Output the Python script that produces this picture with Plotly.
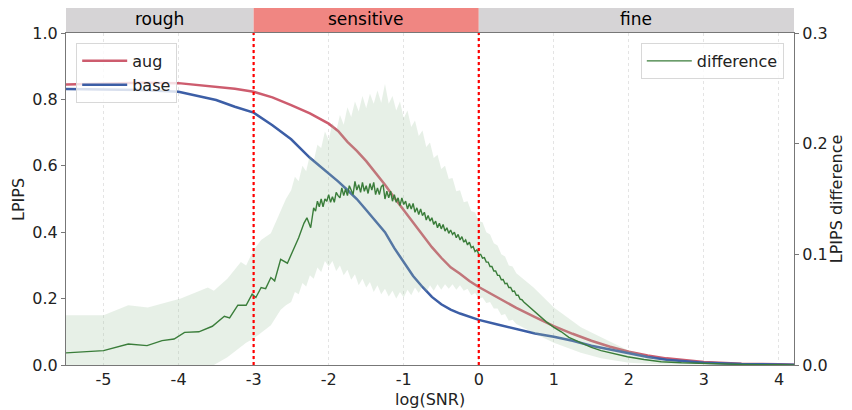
import plotly.graph_objects as go

# --- LPIPS curves (left axis) ---
X_CURVE = [-5.5, -5.0, -4.5, -4.0, -3.5, -3.25, -3.0, -2.75, -2.5, -2.25, -2.0, -1.875,
           -1.75, -1.625, -1.5, -1.375, -1.25, -1.125, -1.0, -0.875, -0.75, -0.625, -0.5,
           -0.375, -0.25, -0.125, 0.0, 0.25, 0.5, 0.75, 1.0, 1.25, 1.5, 1.75, 2.0, 2.25,
           2.5, 3.0, 3.5, 4.0, 4.2]
AUG = [0.845, 0.847, 0.850, 0.849, 0.838, 0.832, 0.823, 0.806, 0.783, 0.758, 0.727, 0.705,
       0.672, 0.645, 0.614, 0.580, 0.543, 0.504, 0.467, 0.428, 0.391, 0.355, 0.323,
       0.294, 0.275, 0.253, 0.235, 0.203, 0.172, 0.144, 0.117, 0.094, 0.073, 0.055, 0.040,
       0.029, 0.020, 0.009, 0.004, 0.002, 0.001]
BASE = [0.831, 0.830, 0.828, 0.823, 0.798, 0.778, 0.760, 0.722, 0.680, 0.624, 0.578, 0.553,
        0.527, 0.500, 0.467, 0.434, 0.400, 0.352, 0.310, 0.268, 0.235, 0.205, 0.183,
        0.167, 0.155, 0.145, 0.136, 0.122, 0.108, 0.095, 0.085, 0.073, 0.058, 0.046, 0.035,
        0.024, 0.016, 0.007, 0.003, 0.001, 0.001]

# --- LPIPS difference (right axis) ---
X_DIFF = [-5.5, -5.0, -4.67, -4.42, -4.22, -4.06, -3.92, -3.73, -3.55, -3.39, -3.32, -3.21,
          -3.1, -3.02, -2.97, -2.9, -2.84, -2.77, -2.72, -2.64, -2.55, -2.47, -2.4, -2.33,
          -2.29, -2.24,
          -2.2, -2.175, -2.15, -2.125, -2.1, -2.075, -2.05, -2.025, -2.0, -1.975, -1.95,
          -1.925, -1.9, -1.875, -1.85, -1.825, -1.8, -1.775, -1.75, -1.725, -1.7, -1.675,
          -1.65, -1.625, -1.6, -1.575, -1.55, -1.525, -1.5, -1.475, -1.45, -1.425, -1.4,
          -1.375, -1.35, -1.325, -1.3, -1.275, -1.25, -1.225, -1.2, -1.175, -1.15, -1.125,
          -1.1, -1.075, -1.05, -1.025, -1.0, -0.975, -0.95, -0.925, -0.9, -0.875, -0.85,
          -0.825, -0.8, -0.775, -0.75, -0.725, -0.7, -0.675, -0.65, -0.625, -0.6, -0.575,
          -0.55, -0.525, -0.5, -0.475, -0.45, -0.425, -0.4, -0.375, -0.35, -0.325, -0.3,
          -0.275, -0.25, -0.225, -0.2, -0.175, -0.15, -0.125, -0.1, -0.075, -0.05, -0.025,
          0.0, 0.025, 0.05, 0.075, 0.1, 0.125, 0.15, 0.175, 0.2, 0.225, 0.25, 0.275, 0.3,
          0.325, 0.35, 0.375, 0.4, 0.425, 0.45, 0.475, 0.5, 0.525, 0.55, 0.575, 0.6,
          0.7, 0.8, 0.9, 1.0, 1.1, 1.2, 1.36, 1.5, 1.63, 1.8, 1.98, 2.2, 2.43, 2.7, 3.0,
          3.5, 4.0, 4.2]
DIFF = [0.011, 0.013, 0.019, 0.0175, 0.022, 0.0235, 0.0295, 0.030, 0.035, 0.044, 0.0425, 0.054,
        0.054, 0.064, 0.061, 0.070, 0.069, 0.079, 0.076, 0.0955, 0.092, 0.104, 0.115, 0.128,
        0.133, 0.124,
        0.142, 0.139, 0.148, 0.143, 0.150, 0.143, 0.150, 0.148, 0.154, 0.147, 0.152,
        0.147, 0.156, 0.153, 0.151, 0.160, 0.153, 0.159, 0.153, 0.162, 0.157, 0.154,
        0.166, 0.158, 0.163, 0.156, 0.165, 0.157, 0.162, 0.155, 0.164, 0.158, 0.165,
        0.154, 0.160, 0.154, 0.161, 0.163, 0.150, 0.157, 0.151, 0.157, 0.148, 0.154,
        0.147, 0.151, 0.144, 0.151, 0.145, 0.148, 0.141, 0.146, 0.141, 0.146, 0.138,
        0.142, 0.136, 0.141, 0.135, 0.138, 0.131, 0.135, 0.130, 0.133, 0.127, 0.130,
        0.124, 0.128, 0.123, 0.127, 0.121, 0.124, 0.119, 0.122, 0.118, 0.120, 0.115,
        0.118, 0.113, 0.116, 0.111, 0.113, 0.1085, 0.111, 0.106, 0.107, 0.1025, 0.104,
        0.100, 0.100, 0.0965, 0.097, 0.093, 0.093, 0.089, 0.089, 0.085, 0.085, 0.081, 0.081, 0.077,
        0.0773, 0.0735, 0.0738, 0.070, 0.070, 0.0665, 0.0668, 0.063, 0.063, 0.0595, 0.059, 0.057,
        0.051, 0.045, 0.039, 0.034, 0.030, 0.025, 0.020, 0.016, 0.013, 0.010, 0.0075, 0.005,
        0.003, 0.002, 0.0012, 0.0005, 0.0002, 0.0001]

X_UPPER = [-5.5, -5.0, -4.67, -4.41, -3.97, -3.8, -3.61, -3.53, -3.35, -3.17, -3.1, -3.0,
           -2.9, -2.77, -2.64, -2.57,
           -2.5, -2.45, -2.4, -2.35, -2.3, -2.25, -2.2, -2.15, -2.1, -2.05, -2.0, -1.95,
           -1.9, -1.85, -1.8, -1.75, -1.7, -1.65, -1.6, -1.55, -1.5, -1.45, -1.4, -1.35,
           -1.3, -1.25, -1.2, -1.15, -1.1, -1.05, -1.0, -0.95, -0.9, -0.85, -0.8, -0.75,
           -0.7, -0.65, -0.6, -0.55, -0.5, -0.45, -0.4, -0.35, -0.3, -0.25, -0.2, -0.15,
           -0.1, -0.05, 0.0, 0.05, 0.1, 0.15, 0.2, 0.25, 0.3, 0.35, 0.4, 0.45, 0.5,
           0.73, 1.0, 1.36, 1.63, 1.98, 2.43, 3.0, 3.5, 4.2]
UPPER = [0.045, 0.045, 0.054, 0.052, 0.060, 0.065, 0.070, 0.067, 0.078, 0.093, 0.090, 0.104,
         0.113, 0.119, 0.140, 0.150,
         0.158, 0.170, 0.166, 0.180, 0.175, 0.190, 0.184, 0.199, 0.196, 0.211, 0.203, 0.219,
         0.211, 0.226, 0.217, 0.233, 0.224, 0.238, 0.229, 0.243, 0.232, 0.245, 0.236, 0.248,
         0.237, 0.254, 0.236, 0.243, 0.230, 0.238, 0.223, 0.230, 0.215, 0.221, 0.207, 0.212,
         0.197, 0.201, 0.187, 0.190, 0.177, 0.180, 0.168, 0.169, 0.157, 0.158, 0.147, 0.148,
         0.139, 0.138, 0.130, 0.129, 0.120, 0.118, 0.110, 0.108, 0.100, 0.098, 0.090, 0.089, 0.083,
         0.070, 0.052, 0.034, 0.025, 0.0135, 0.0045, 0.0012, 0.0004, 0.0001]

X_LOWER = [-5.5, -5.0, -4.67, -4.41, -3.97, -3.8, -3.61, -3.53, -3.35, -3.1, -3.0, -2.9,
           -2.77, -2.64, -2.57,
           -2.5, -2.45, -2.4, -2.35, -2.3, -2.25, -2.2, -2.15, -2.1, -2.05, -2.0, -1.95,
           -1.9, -1.85, -1.8, -1.75, -1.7, -1.65, -1.6, -1.55, -1.5, -1.45, -1.4, -1.35,
           -1.3, -1.25, -1.2, -1.15, -1.1, -1.05, -1.0, -0.95, -0.9, -0.85, -0.8, -0.75,
           -0.7, -0.65, -0.6, -0.55, -0.5, -0.45, -0.4, -0.35, -0.3, -0.25, -0.2, -0.15,
           -0.1, -0.05, 0.0, 0.05, 0.1, 0.15, 0.2, 0.25, 0.3, 0.35, 0.4, 0.45, 0.5,
           0.73, 1.0, 1.36, 1.63, 2.0, 2.5, 3.0, 4.2]
LOWER = [-0.023, -0.019, -0.016, -0.017, -0.008, -0.005, -0.002, 0.0, 0.007, 0.020, 0.024, 0.029,
         0.036, 0.050, 0.054,
         0.057, 0.066, 0.064, 0.074, 0.071, 0.081, 0.078, 0.088, 0.084, 0.094, 0.089, 0.094,
         0.085, 0.090, 0.081, 0.086, 0.077, 0.082, 0.072, 0.078, 0.070, 0.075, 0.066, 0.072,
         0.064, 0.069, 0.062, 0.067, 0.060, 0.066, 0.061, 0.068, 0.063, 0.070, 0.065, 0.071,
         0.066, 0.072, 0.067, 0.073, 0.068, 0.073, 0.069, 0.073, 0.068, 0.072, 0.067, 0.069,
         0.063, 0.065, 0.060, 0.061, 0.056, 0.057, 0.051, 0.051, 0.045, 0.046, 0.040, 0.041, 0.037,
         0.029, 0.020, 0.011, 0.006, 0.002, 0.0005, 0.0002, 0.0]

X_TICKS = [-5, -4, -3, -2, -1, 0, 1, 2, 3, 4]
X_TICK_TEXT = ["-5", "-4", "-3", "-2", "-1", "0", "1", "2", "3", "4"]

# regions shown in the header strip: (start, end, label, colour)
REGIONS = [(-5.5, -3.0, "rough", "#d6d4d6"),
           (-3.0, 0.0, "sensitive", "#f08682"),
           (0.0, 4.2, "fine", "#d6d4d6")]
BOUNDARIES = [-3.0, 0.0]

FONT = "DejaVu Sans"

fig = go.Figure()

fig.add_trace(go.Scatter(x=X_CURVE, y=AUG, mode="lines", name="aug",
                         line=dict(color="#cd5c6e", width=2.5), legend="legend"))
fig.add_trace(go.Scatter(x=X_CURVE, y=BASE, mode="lines", name="base",
                         line=dict(color="#3c5ea6", width=2.5), legend="legend"))

# std band as one closed polygon
fig.add_trace(go.Scatter(
    x=X_UPPER + X_LOWER[::-1], y=UPPER + LOWER[::-1],
    mode="lines", fill="toself", fillcolor="rgba(160,195,160,0.25)",
    line=dict(width=0, color="rgba(0,0,0,0)"), yaxis="y2",
    showlegend=False, hoverinfo="skip",
))
fig.add_trace(go.Scatter(x=X_DIFF, y=DIFF, mode="lines", name="difference",
                         line=dict(color="#3a7d3a", width=1.4), yaxis="y2",
                         legend="legend2"))

axis_font = dict(size=16, color="#222", family=FONT)

shapes = []
annotations = []
for x0, x1, label, color in REGIONS:
    shapes.append(dict(type="rect", xref="x", yref="paper", x0=x0, x1=x1,
                       y0=1.0, y1=1.085, fillcolor=color, line=dict(width=0),
                       layer="below"))
    annotations.append(dict(x=(x0 + x1) / 2, y=1.0425, xref="x", yref="paper",
                            xanchor="center", yanchor="middle",
                            text=label, showarrow=False,
                            font=dict(size=17, color="black", family=FONT)))
for b in BOUNDARIES:
    shapes.append(dict(type="line", xref="x", yref="paper", x0=b, x1=b, y0=0, y1=1,
                       line=dict(color="red", width=2.2, dash="dot"), layer="above"))

# axis titles
annotations += [
    dict(text="LPIPS", xref="paper", yref="paper", x=-0.066, y=0.5,
         textangle=-90, showarrow=False, xanchor="center", yanchor="middle",
         font=axis_font),
    dict(text="LPIPS difference", xref="paper", yref="paper", x=1.058, y=0.5,
         textangle=-90, showarrow=False, xanchor="center", yanchor="middle",
         font=axis_font),
    dict(text="log(SNR)", xref="paper", yref="paper", x=0.5, y=-0.103,
         showarrow=False, xanchor="center", yanchor="middle", font=axis_font),
]

# the page body adds an 8px offset, so the figure is 8px smaller than the window
fig.update_layout(
    width=844, height=402,
    margin=dict(l=58, r=58, t=25, b=45, autoexpand=False),
    paper_bgcolor="white", plot_bgcolor="white",
    font=dict(family=FONT, size=16, color="#222"),
    shapes=shapes, annotations=annotations,
    xaxis=dict(range=[-5.5, 4.2], tickvals=X_TICKS, ticktext=X_TICK_TEXT,
               showgrid=True, gridcolor="#e4e4e4", griddash="dot", gridwidth=1,
               showline=True, linecolor="#777", linewidth=1.2, mirror=True,
               zeroline=False, ticks="", tickfont=axis_font, automargin=False),
    yaxis=dict(range=[0, 1.0], tickvals=[0, 0.2, 0.4, 0.6, 0.8, 1.0],
               ticktext=["0.0", "0.2", "0.4", "0.6", "0.8", "1.0"],
               showgrid=False, zeroline=False, showline=True, linecolor="#777",
               linewidth=1.2, ticks="outside", ticklen=4, tickcolor="#777",
               tickfont=axis_font, automargin=False),
    yaxis2=dict(range=[0, 0.3], overlaying="y", side="right",
                tickvals=[0, 0.1, 0.2, 0.3], ticktext=["0.0", "0.1", "0.2", "0.3"],
                showgrid=False, zeroline=False, showline=True, linecolor="#777",
                linewidth=1.2, ticks="outside", ticklen=4, tickcolor="#777",
                tickfont=axis_font, automargin=False),
    legend=dict(x=0.014, y=0.97, xanchor="left", yanchor="top", itemwidth=45,
                bgcolor="rgba(255,255,255,0.8)", bordercolor="#d8d8d8", borderwidth=1,
                font=dict(size=16, color="#222", family=FONT)),
    legend2=dict(x=0.986, y=0.97, xanchor="right", yanchor="top", itemwidth=45,
                 bgcolor="rgba(255,255,255,0.8)", bordercolor="#d8d8d8", borderwidth=1,
                 font=dict(size=16, color="#222", family=FONT)),
    showlegend=True,
)

fig.write_html("out.html")
